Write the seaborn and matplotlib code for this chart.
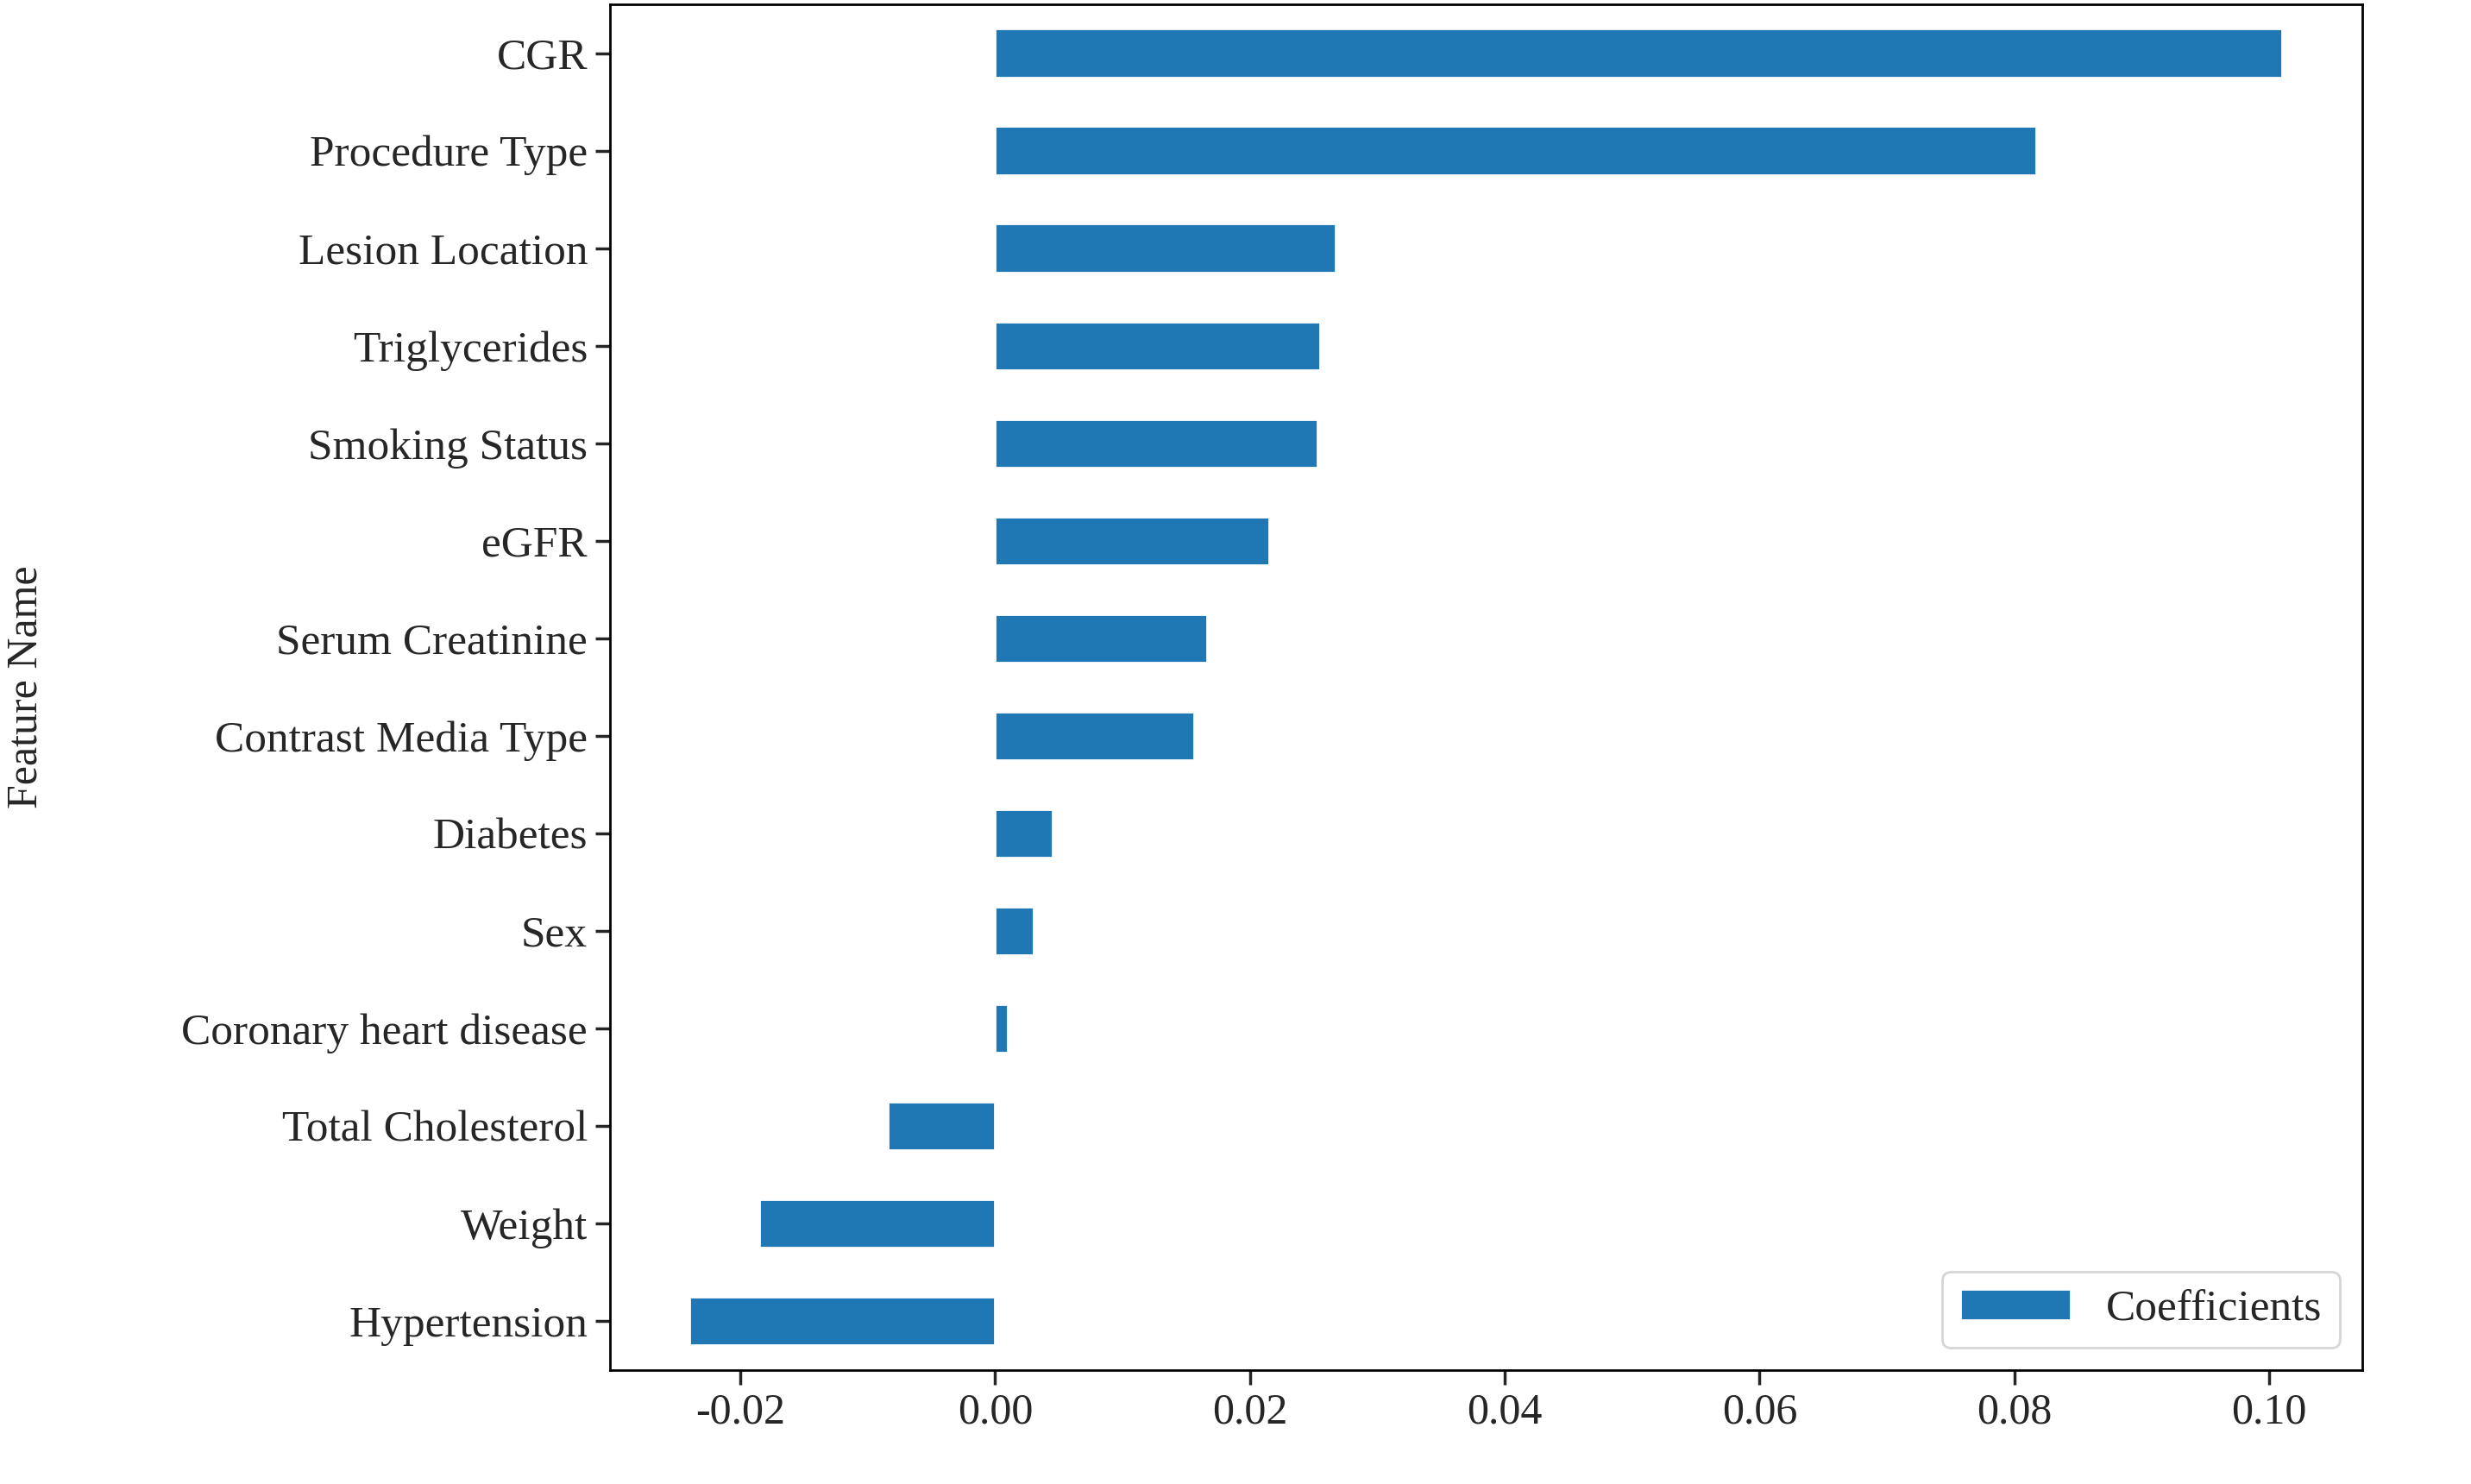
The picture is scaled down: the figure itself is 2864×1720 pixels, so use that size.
import matplotlib
matplotlib.use("Agg")
import matplotlib.pyplot as plt
import seaborn as sns
import pandas as pd

features = ["CGR", "Procedure Type", "Lesion Location", "Triglycerides", "Smoking Status",
            "eGFR", "Serum Creatinine", "Contrast Media Type", "Diabetes", "Sex",
            "Coronary heart disease", "Total Cholesterol", "Weight", "Hypertension"]
coefficients = [0.101, 0.0817, 0.0267, 0.0255, 0.0253, 0.0215, 0.0166, 0.0156,
                0.0045, 0.0030, 0.0010, -0.0084, -0.0185, -0.0240]
xticks = [-0.02, 0.00, 0.02, 0.04, 0.06, 0.08, 0.10]

sns.set_theme(style="ticks")
plt.rcParams['font.family'] = ['Liberation Serif', 'DejaVu Serif']

df = pd.DataFrame({"Feature Name": features, "Coefficient": coefficients,
                   "series": ["Coefficients"] * len(features)})

fig, ax = plt.subplots(figsize=(14.32, 8.6), dpi=200)
fig.subplots_adjust(left=0.247, right=0.956, top=0.997, bottom=0.077)
sns.barplot(data=df, x="Coefficient", y="Feature Name", hue="series",
            palette=["#1f77b4"], width=0.5, orient="h", ax=ax, saturation=1)
ax.set_xlim(-0.0302, 0.1073)
ax.set_xticks(xticks)
ax.set_xticklabels([f"{t:.2f}" for t in xticks], fontsize=18)
ax.tick_params(axis='y', labelsize=18.5)
ax.set_xlabel("")
ax.set_ylabel("Feature Name", fontsize=18)
ax.yaxis.set_label_coords(-0.322, 0.5)
for s in ax.spines.values():
    s.set_color("black")
    s.set_linewidth(1.0)
ax.legend(loc="lower right", fontsize=18.5, handlelength=2.5)
fig.savefig("out.png", dpi=200)
